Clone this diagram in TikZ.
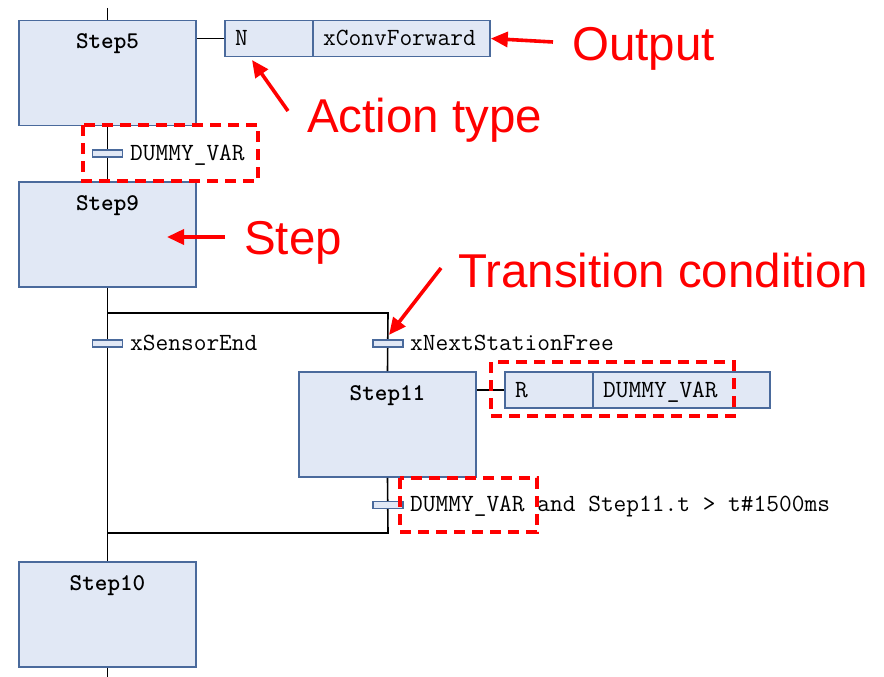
\documentclass[tikz,border=0pt]{standalone}
\usepackage{fontspec}
\setmainfont{Liberation Sans}
\usetikzlibrary{arrows.meta}
\definecolor{boxfill}{HTML}{E1E8F5}
\definecolor{boxline}{HTML}{4A6A9C}
\definecolor{annot}{HTML}{FF0000}
\begin{document}
\begin{tikzpicture}[x=1pt,y=-1pt,
  stepbox/.style={draw=boxline,fill=boxfill,line width=1.6pt,minimum width=177pt,minimum height=105pt,inner sep=0pt},
  steplabel/.style={font=\ttfamily\bfseries\fontsize{24}{24}\selectfont,anchor=base,inner sep=0pt},
  bar/.style={draw=boxline,fill=boxfill,line width=1.3pt,minimum width=30pt,minimum height=7pt,inner sep=0pt},
  acell/.style={draw=boxline,fill=boxfill,line width=1.6pt,minimum height=36pt,inner sep=0pt},
  code/.style={font=\ttfamily\fontsize{24.7}{24.7}\selectfont,anchor=base west,inner sep=0pt},
  wire/.style={line width=1.6pt,black},
  hilite/.style={draw=annot,dashed,dash pattern=on 11pt off 7pt,line width=3.6pt},
  note/.style={font=\fontsize{47.5}{47.5}\selectfont,text=annot,anchor=base west,inner sep=0pt},
  pointer/.style={draw=annot,line width=3.6pt,-{Triangle[length=17pt,width=15pt]}}]
\useasboundingbox (0,0) rectangle (884,677);
% steps
\node[stepbox] (s5) at (107.5,73) {};
\node[stepbox] (s9) at (107.5,234.5) {};
\node[stepbox] (s11) at (387.5,424.5) {};
\node[stepbox] (s10) at (107.5,614.5) {};
\node[steplabel] (l5) at (107.5,49) {Step5};
\node[steplabel] (l9) at (107.5,210) {Step9};
\node[steplabel] (l11) at (387.5,400) {Step11};
\node[steplabel] (l10) at (107.5,590) {Step10};
% actions
\node[acell,minimum width=88pt] (a5n) at (269,38.5) {};
\node[acell,minimum width=177pt] (a5v) at (401.5,38.5) {};
\node[code] (t5n) at (235,45.5) {N};
\node[code] (t5v) at (323,45.5) {xConvForward};
\node[acell,minimum width=88pt] (a11n) at (549,390) {};
\node[acell,minimum width=177pt] (a11v) at (681.5,390) {};
\node[code] (t11n) at (515,397) {R};
\node[code] (t11v) at (603,397) {DUMMY\_VAR};
% connectors
\coordinate (top) at (107.5,8);
\coordinate (bot) at (107.5,677);
\coordinate (jl) at (107.5,313);
\coordinate (jr) at (388,313);
\coordinate (kr) at (388,533);
\coordinate (kl) at (107.5,533);
\draw[wire] (top) -- (s5.north);
\draw[wire] (s5.south) -- (s9.north);
\draw[wire] (s9.south) -- (s10.north);
\draw[wire] (jl) -- (jr) -- (s11.north);
\draw[wire] (s11.south) -- (kr) -- (kl);
\draw[wire] (s10.south) -- (bot);
\draw[wire] (s5.east |- a5n.west) -- (a5n.west);
\draw[wire] (s11.east |- a11n.west) -- (a11n.west);
% transitions
\node[bar] (b1) at (107.5,153.5) {};
\node[bar] (b2) at (107.5,343.5) {};
\node[bar] (b3) at (388,343.5) {};
\node[bar] (b4) at (388,505) {};
\node[code] (c1) at (130,160) {DUMMY\_VAR};
\node[code] (c2) at (130,350) {xSensorEnd};
\node[code] (c3) at (410,350) {xNextStationFree};
\node[code] (c4) at (410,511.5) {DUMMY\_VAR and Step11.t > t\#1500ms};
% highlights
\draw[hilite] (83,125) rectangle (258,181);
\draw[hilite] (491,362) rectangle (734,416);
\draw[hilite] (400,478) rectangle (537,532);
% annotations
\node[note] (n1) at (572,61) {Output};
\node[note] (n2) at (307,132) {Action type};
\node[note] (n3) at (244,254) {Step};
\node[note] (n4) at (458,287) {Transition condition};
\coordinate (p1) at (553,42);
\coordinate (p2) at (288,111);
\coordinate (p3) at (225,237);
\coordinate (p4) at (441,268);
\draw[pointer] (p1) -- (a5v.east);
\draw[pointer] (p2) -- (252,60);
\draw[pointer] (p3) -- (167,237);
\draw[pointer] (p4) -- (389,335);
\end{tikzpicture}
\end{document}
